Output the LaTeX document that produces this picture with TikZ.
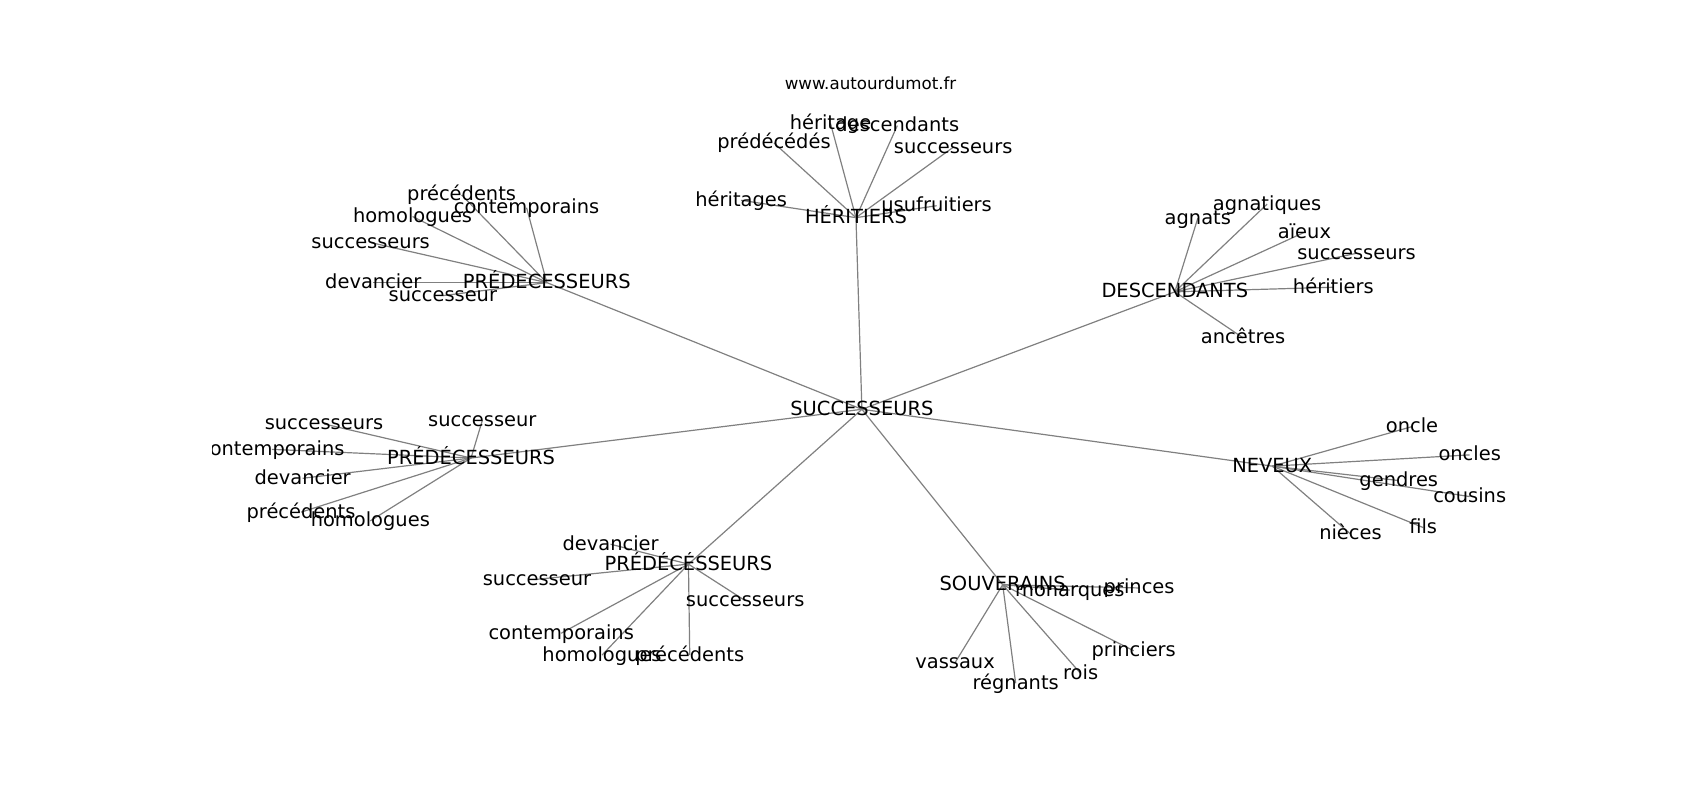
\documentclass[tikz,border=0pt]{standalone}
\usepackage{fontspec}
\setmainfont{DejaVu Sans}
\usetikzlibrary{backgrounds}
\definecolor{edgegray}{HTML}{808080}
\newcommand{\lblfont}{\fontsize{19.44}{23}\selectfont}
\newcommand{\ttlfont}{\fontsize{16.67}{20}\selectfont}
\begin{document}
\begin{tikzpicture}[x=1.0828pt,y=-1.0828pt,
  lbl/.style={font=\lblfont, inner sep=0pt, text height=1.2em, text depth=0em, anchor=center},
  ttl/.style={font=\ttlfont, inner sep=0pt, anchor=center},
  edge/.style={draw=edgegray, line width=1.2pt}]
\useasboundingbox (0,0) rectangle (1570,738.8);
\node[ttl] (title) at (804,76.5) {www.autourdumot.fr};
\begin{scope}
\clip (196.3,88.7) rectangle (1413,657.6);
% centre
\node[lbl] (c) at (796,378) {SUCCESSEURS};
% HERITIERS
\node[lbl] (h) at (790.5,201) {HÉRITIERS};
\node[lbl] (h1) at (767,114) {héritage};
\node[lbl] (h2) at (828.7,116) {descendants};
\node[lbl] (h3) at (714.8,132) {prédécédés};
\node[lbl] (h4) at (880.3,136) {successeurs};
\node[lbl] (h5) at (684.5,185) {héritages};
\node[lbl] (h6) at (865,190) {usufruitiers};
% top-left
\node[lbl] (a) at (505,261) {PRÉDECESSEURS};
\node[lbl] (a1) at (426.3,180) {précédents};
\node[lbl] (a2) at (486.3,191.8) {contemporains};
\node[lbl] (a3) at (381,200) {homologues};
\node[lbl] (a4) at (342.3,224) {successeurs};
\node[lbl] (a5) at (344.7,261) {devancier};
\node[lbl] (a6) at (409,273) {successeur};
% left
\node[lbl] (b) at (435,423) {PRÉDÉCESSEURS};
\node[lbl] (b1) at (445.4,388.4) {successeur};
\node[lbl] (b2) at (299.2,391.5) {successeurs};
\node[lbl] (b3) at (251,415) {contemporains};
\node[lbl] (b4) at (279.5,441.7) {devancier};
\node[lbl] (b5) at (278,473) {précédents};
\node[lbl] (b6) at (342,481) {homologues};
% bottom
\node[lbl] (p) at (635.8,521) {PRÉDÉCÉSSEURS};
\node[lbl] (p1) at (563.9,502.6) {devancier};
\node[lbl] (p2) at (495.9,535) {successeur};
\node[lbl] (p3) at (688.2,554.7) {successeurs};
\node[lbl] (p4) at (518.3,584.8) {contemporains};
\node[lbl] (p5) at (556,605) {homologues};
\node[lbl] (p6) at (637,605) {précédents};
% SOUVERAINS
\node[lbl] (s) at (926,540) {SOUVERAINS};
\node[lbl] (s1) at (988,545) {monarques};
\node[lbl] (s2) at (1052,543) {princes};
\node[lbl] (s3) at (1047,601) {princiers};
\node[lbl] (s4) at (882,612) {vassaux};
\node[lbl] (s5) at (938,631) {régnants};
\node[lbl] (s6) at (998,622) {rois};
% NEVEUX
\node[lbl] (n) at (1175,430.5) {NEVEUX};
\node[lbl] (n1) at (1304,394) {oncle};
\node[lbl] (n2) at (1357.3,420.1) {oncles};
\node[lbl] (n3) at (1291.8,443.8) {gendres};
\node[lbl] (n4) at (1357.3,458.6) {cousins};
\node[lbl] (n5) at (1314.3,487.2) {fils};
\node[lbl] (n6) at (1247.2,493.1) {nièces};
% DESCENDANTS
\node[lbl] (d) at (1085,269.5) {DESCENDANTS};
\node[lbl] (d1) at (1106.2,201.6) {agnats};
\node[lbl] (d2) at (1170.2,188.5) {agnatiques};
\node[lbl] (d3) at (1204.7,214.5) {aïeux};
\node[lbl] (d4) at (1252.8,233.9) {successeurs};
\node[lbl] (d5) at (1231.4,265.3) {héritiers};
\node[lbl] (d6) at (1148,312) {ancêtres};
\end{scope}
\begin{pgfonlayer}{background}
\foreach \hub in {h,a,b,p,s,n,d}{
  \draw[edge] (c.center) -- (\hub.center);
  \foreach \k in {1,...,6}{
    \draw[edge] (\hub.center) -- (\hub\k.center);
  }
}
\end{pgfonlayer}
\end{tikzpicture}
\end{document}
